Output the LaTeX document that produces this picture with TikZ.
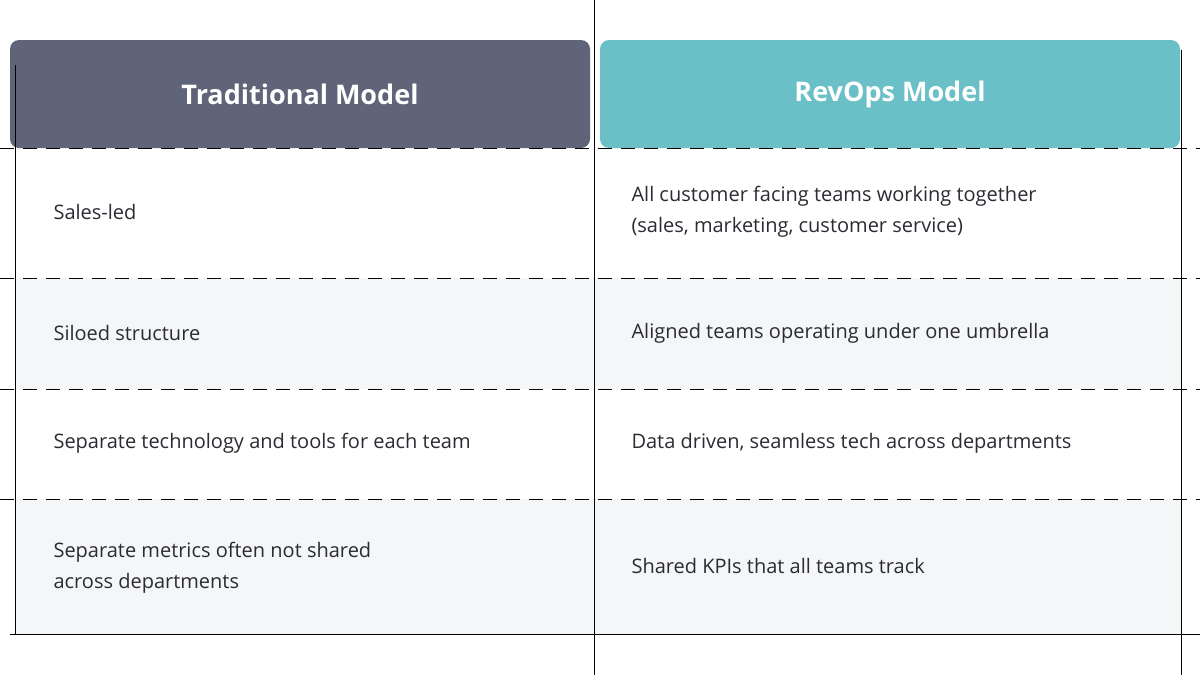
\documentclass[tikz,border=0pt]{standalone}
\usepackage{fontspec}
\setmainfont{Open Sans}
\usetikzlibrary{positioning}
\definecolor{tradgray}{HTML}{5F6479}
\definecolor{revteal}{HTML}{6BBFC6}
\definecolor{rowgray}{HTML}{F5F6F8}
\definecolor{txtdark}{HTML}{2B2B33}
\tikzset{
	headbox/.style={rounded corners=9pt, minimum width=580pt, minimum height=108pt, inner sep=0pt, text=white, font=\bfseries\fontsize{27}{32}\selectfont},
	celltext/.style={anchor=west, align=left, text=txtdark, font=\fontsize{20}{31}\selectfont},
	rowline/.style={draw=black, thin, dash pattern=on 14pt off 9pt},
}
\begin{document}
\begin{tikzpicture}[x=1pt,y=-1pt]
	\useasboundingbox (0,0) rectangle (1200,675);
	% shaded rows
	\fill[rowgray] (16,278) rectangle (1182,389);
	\fill[rowgray] (16,499) rectangle (1182,634);
	% headers
	\node[headbox, fill=tradgray] (trad) at (300,94) {Traditional Model};
	\node[headbox, fill=revteal] (revops) at (890,94) {RevOps Model};
	% grid
	\foreach \y in {148,278,389,499}
		\draw[rowline] (0,\y) -- (1200,\y);
	\draw[black, thin] (10,634) -- (1200,634);
	\draw[black, thin] (594,0) -- (594,675);
	\draw[black, thin] (15,65) -- (15,634);
	\draw[black, thin] (1181,50) -- (1181,675);
	% cells
	\node[celltext] (t1) at (50,212) {Sales-led};
	\node[celltext] (r1) at (628,212) {All customer facing teams working together\\(sales, marketing, customer service)};
	\node[celltext] (t2) at (50,333) {Siloed structure};
	\node[celltext] (r2) at (628,333) {Aligned teams operating under one umbrella};
	\node[celltext] (t3) at (50,443) {Separate technology and tools for each team};
	\node[celltext] (r3) at (628,443) {Data driven, seamless tech across departments};
	\node[celltext] (t4) at (50,568) {Separate metrics often not shared\\across departments};
	\node[celltext] (r4) at (628,566) {Shared KPIs that all teams track};
\end{tikzpicture}
\end{document}
